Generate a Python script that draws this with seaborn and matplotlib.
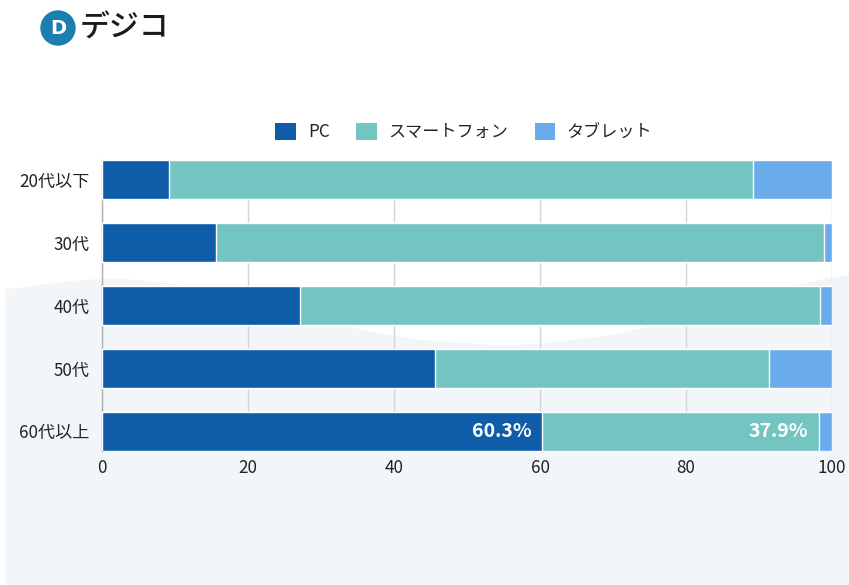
import numpy as np
import pandas as pd
import matplotlib
matplotlib.use("Agg")
import matplotlib.pyplot as plt
import seaborn as sns
from matplotlib.patches import Patch, Circle

# ---- data ----
categories = ["20代以下", "30代", "40代", "50代", "60代以上"]
series_names = ["PC", "スマートフォン", "タブレット"]
pc = [9.2, 15.6, 27.1, 45.6, 60.3]
smartphone = [80.0, 83.3, 71.3, 45.8, 37.9]
tablet = [10.8, 1.1, 1.6, 8.6, 1.8]
x_ticks = [0, 20, 40, 60, 80, 100]
label_row = "60代以上"

colors = ["#0f5ca8", "#74c4c2", "#6aaceb"]

sns.set_theme(style="white")
plt.rcParams["font.family"] = ["Noto Sans CJK JP", "DejaVu Sans"]

df = pd.DataFrame({"cat": categories, "pc": pc, "sp": smartphone, "tab": tablet})
df["c1"] = df["pc"]
df["c2"] = df["pc"] + df["sp"]
df["c3"] = df["pc"] + df["sp"] + df["tab"]

fig = plt.figure(figsize=(8.49, 5.85), dpi=100)

# decorative background wave
bg = fig.add_axes([0, 0, 1, 1], zorder=-10)
bg.set_xlim(0, 849)
bg.set_ylim(585, 0)
bg.axis("off")
xs = np.array([5, 60, 120, 200, 300, 400, 514, 620, 720, 800, 849])
ys = np.array([290, 281, 277, 287, 315, 338, 346, 334, 305, 283, 273])
xx = np.linspace(5, 849, 300)
yy = np.interp(xx, xs, ys)
k = np.ones(25) / 25
yy_s = np.convolve(np.pad(yy, 12, mode="edge"), k, mode="valid")
bg.fill_between(xx, yy_s, 585, color="#f2f6f9", lw=0)

ax = fig.add_axes([102 / 849, 1 - 451 / 585, 730 / 849, 291 / 585])
ax.set_facecolor("none")

sns.barplot(data=df, y="cat", x="c3", color=colors[2], orient="h", width=0.62,
            ax=ax, saturation=1, zorder=3)
sns.barplot(data=df, y="cat", x="c2", color=colors[1], orient="h", width=0.62,
            ax=ax, saturation=1, zorder=3)
sns.barplot(data=df, y="cat", x="c1", color=colors[0], orient="h", width=0.62,
            ax=ax, saturation=1, zorder=3)

ax.set_xlim(0, 100)
ax.set_ylim(4.31, -0.31)
ax.set_xticks(x_ticks)
ax.set_xticklabels([str(t) for t in x_ticks])
ax.set_xlabel("")
ax.set_ylabel("")
ax.grid(axis="x", color="#d4d4d4", lw=1, zorder=0)
ax.grid(axis="y", visible=False)
for s in ["top", "bottom", "right"]:
    ax.spines[s].set_visible(False)
ax.spines["left"].set_color("#b0b0b0")
ax.spines["left"].set_linewidth(1)
ax.tick_params(axis="both", length=0, labelsize=12.3, colors="#222222")
ax.tick_params(axis="x", pad=6)
ax.tick_params(axis="y", pad=9)

# value labels
i = categories.index(label_row)
for end, val in [(df.loc[i, "c1"], pc[i]), (df.loc[i, "c2"], smartphone[i])]:
    ax.annotate(f"{val:.1f}%", xy=(end, i), xytext=(-7.5, 0), textcoords="offset points",
                ha="right", va="center", color="white", fontsize=14, fontweight="bold",
                zorder=5)

# legend
handles = [Patch(facecolor=c, edgecolor="none") for c in colors]
fig.legend(handles, series_names, loc="center", bbox_to_anchor=(464 / 849, 1 - 132 / 585),
           ncol=3, frameon=False, fontsize=12.3, handlelength=1.22, handleheight=1.22,
           handletextpad=0.67, columnspacing=1.55)

# logo
logo = fig.add_axes([0, 0, 1, 1], zorder=5)
logo.set_xlim(0, 849)
logo.set_ylim(585, 0)
logo.axis("off")
logo.add_patch(Circle((58, 28), 17, color="#1a7fb0"))
logo.text(58, 28, "D", color="white", ha="center", va="center", fontsize=14,
          fontweight="bold", family=["DejaVu Sans"])
logo.text(80, 28, "デジコ", color="#1a1a1a", ha="left", va="center", fontsize=21.5,
          fontweight="medium")

fig.savefig("out.png", dpi=100)
